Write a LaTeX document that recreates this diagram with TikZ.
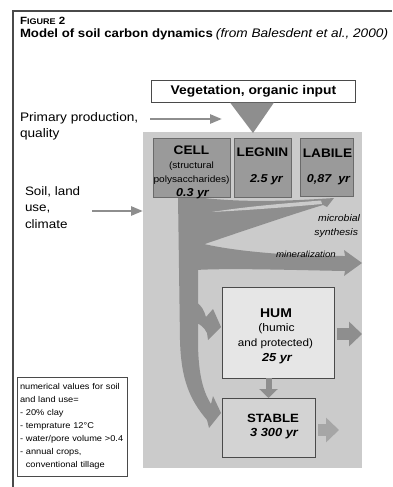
\documentclass[tikz,border=0pt]{standalone}
\usepackage{fontspec}
\setmainfont{Liberation Sans}[FakeStretch=1.1]
\usetikzlibrary{arrows.meta}
\definecolor{bgc}{HTML}{CBCBCB}
\definecolor{flow}{HTML}{8E8E8E}
\definecolor{poolc}{HTML}{9A9A9A}
\definecolor{poolb}{HTML}{6A6A6A}
\definecolor{humc}{HTML}{E6E6E6}
\definecolor{stabc}{HTML}{D3D3D3}
\definecolor{framec}{HTML}{4A4A4A}
\definecolor{lightflow}{HTML}{A6A6A6}
\newcommand{\fs}[1]{\fontsize{#1}{#1}\selectfont}
\newcommand{\fsl}[2]{\fontsize{#1}{#2}\selectfont}
\begin{document}
\begin{tikzpicture}[x=1pt,y=-1pt,
  lbl/.style={inner sep=0pt,outer sep=0pt,anchor=base west},
  ctr/.style={inner sep=0pt,outer sep=0pt,anchor=base},
  rgt/.style={inner sep=0pt,outer sep=0pt,anchor=base east},
  pool/.style={draw=poolb,fill=poolc,line width=0.7pt,inner sep=0pt,outer sep=0pt},
  sidearrow/.style={draw=flow,line width=2.6pt,-{Triangle[length=12pt,width=9pt]}},
  fatarrow/.style={draw=flow,line width=12pt,-{Triangle[length=13pt,width=24pt]}},
  poolname/.style={ctr,font=\bfseries\fs{12.4}},
  poolsub/.style={ctr,font=\fs{9.2}},
  poolyr/.style={ctr,font=\bfseries\itshape\fs{11.4}}]
\useasboundingbox (0,0) rectangle (392,487);
% frame
\draw[framec,line width=1.2pt] (392,11) -- (13,11) -- (13,487);
% title
\node[lbl,font=\bfseries\fs{10.5}] (fig) at (20,25) {F{\fs{8.2}IGURE} 2};
\node[lbl] (title) at (20,37.5) {{\bfseries\fs{12}Model of soil carbon dynamics} {\itshape\fs{12.4}(from Balesdent et al., 2000)}};
% vegetation box
\node[draw=framec,fill=white,line width=0.6pt,minimum width=204pt,minimum height=22pt,inner sep=0pt,font=\bfseries\fs{12.6}] (veg) at (253.5,91) {Vegetation, organic input};
% side texts
\node[lbl,font=\fs{12.4}] (pp1) at (20,121.5) {Primary production,};
\node[lbl,font=\fs{12.4}] (pp2) at (20,137.5) {quality};
\node[lbl,font=\fs{12.2}] (sl1) at (25,195) {Soil, land};
\node[lbl,font=\fs{12.2}] (sl2) at (25,211.5) {use,};
\node[lbl,font=\fs{12.2}] (sl3) at (25,228) {climate};
% background of soil compartment
\fill[bgc] (143,132) rectangle (362,468);
% input arrows
\fill[flow] (230,102.5) -- (274,102.5) -- (253,133) -- cycle;
\coordinate (ppS) at (150,119);
\coordinate (ppE) at (222,119);
\draw[sidearrow] (ppS) -- (ppE);
\coordinate (slS) at (92,211);
\coordinate (slE) at (143,211);
\draw[sidearrow] (slS) -- (slE);
% flows
\fill[flow] (178,196) -- (198,196) -- (198,340) .. controls (198,370) and (202,390) .. (211,404) -- (213,396) -- (221,413) -- (209,428) -- (207,420) .. controls (190,400) and (181,380) .. (180,340) -- cycle;
\fill[flow] (196,197) .. controls (240,203) and (290,201) .. (334,198) -- (327,207) -- (323,205) .. controls (290,215) and (240,232) .. (196,247) -- cycle;
\fill[bgc] (212,212) .. controls (250,206) and (290,203) .. (321,200.5) -- (322,204) .. controls (290,207) and (250,210) .. (212,212) -- cycle;
\fill[flow] (196,242) .. controls (225,250) and (280,256) .. (345,256) -- (344,250) -- (362,263) -- (344,276) -- (345,271) .. controls (290,270) and (230,268) .. (196,270) -- cycle;
\fill[flow] (196,302) .. controls (201,305) and (204,310) .. (206,317) -- (213,309) -- (221,327) -- (208,340) -- (207,333) .. controls (204,327) and (200,324) .. (196,323) -- cycle;
% pools
\node[pool,minimum width=77pt,minimum height=59pt] (cell) at (191.5,167.5) {};
\node[pool,minimum width=57pt,minimum height=59pt] (legnin) at (262.5,167.5) {};
\node[pool,minimum width=53pt,minimum height=58pt] (labile) at (326.5,167) {};
\node[poolname] (cellT) at (191.5,154) {CELL};
\node[poolsub] (cellS1) at (191.5,168) {(structural};
\node[poolsub] (cellS2) at (191.5,182.5) {polysaccharides)};
\node[poolyr] (cellY) at (192.5,196) {0.3 yr};
\node[poolname] (legT) at (262.5,156.5) {LEGNIN};
\node[poolyr] (legY) at (266.5,182) {2.5 yr};
\node[poolname] (labT) at (327.5,157) {LABILE};
\node[poolyr] (labY) at (328.5,182) {0,87~~yr};
\node[rgt,font=\itshape\fs{9.5}] (mic1) at (360,221) {microbial};
\node[rgt,font=\itshape\fs{9.5}] (mic2) at (358,235) {synthesis};
\node[ctr,font=\itshape\fs{8.8}] (mine) at (306,257) {mineralization};
% HUM and STABLE
\node[draw=framec,fill=humc,line width=0.8pt,minimum width=112pt,minimum height=91pt,inner sep=0pt,outer sep=0pt] (hum) at (278,332.5) {};
\node[ctr,font=\bfseries\fs{12.7}] (humT) at (276,317) {HUM};
\node[ctr,font=\fs{11}] (humS1) at (276.5,331) {(humic};
\node[ctr,font=\fs{10.6}] (humS2) at (275.5,346) {and protected)};
\node[ctr,font=\bfseries\itshape\fs{11.6}] (humY) at (277,361) {25 yr};
\node[draw=framec,fill=stabc,line width=0.8pt,minimum width=93pt,minimum height=59pt,inner sep=0pt,outer sep=0pt] (stable) at (268.5,427.5) {};
\node[ctr,font=\bfseries\fs{12}] (stT) at (273,422.7) {STABLE};
\node[ctr,font=\bfseries\itshape\fs{11.7}] (stY) at (274,436) {3 300 yr};
% outflows
\draw[fatarrow] ([xshift=3pt,yshift=-1.5pt]hum.east) -- ++(25pt,0pt);
\draw[draw=flow,line width=6pt,-{Triangle[length=9pt,width=18pt]}] (stable.north |- hum.south) -- (stable.north);
\draw[fatarrow,draw=lightflow] ([xshift=3pt,yshift=-2.5pt]stable.east) -- ++(21pt,0pt);
% notes
\node[draw=framec,fill=white,line width=0.7pt,minimum width=110pt,minimum height=99pt,text width=104pt,inner xsep=3pt,align=left,font=\fsl{8.4}{13}] (notes) at (72,426.5) {numerical values for soil\\and land use=\\- 20\% clay\\- temprature 12°C\\- water/pore volume >0.4\\- annual crops,\\\hphantom{- }conventional tillage};
\end{tikzpicture}
\end{document}
